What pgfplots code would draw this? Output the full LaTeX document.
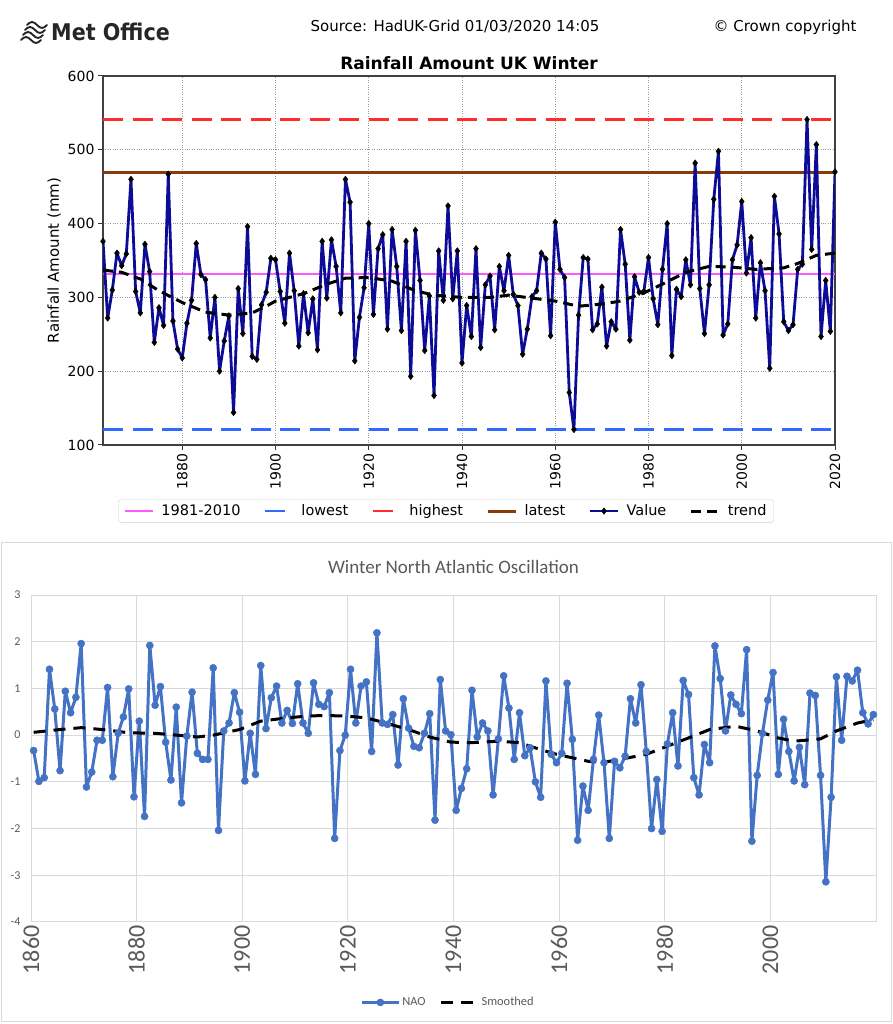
\documentclass[border=0pt]{standalone}
\usepackage{fontspec}
\setmainfont{DejaVu Sans}
\newfontfamily\condf{DejaVu Sans Condensed}
\newfontfamily\carl{Carlito}
\usepackage{pgfplots}
\usepackage{pgfplotstable}
\pgfplotsset{compat=1.18}
\newcommand{\fs}[1]{\fontsize{#1}{#1}\selectfont}
\definecolor{navyv}{RGB}{12,12,150}
\definecolor{magl}{RGB}{255,90,255}
\definecolor{lowb}{RGB}{50,105,255}
\definecolor{highr}{RGB}{255,45,45}
\definecolor{brownl}{RGB}{135,60,10}
\definecolor{naob}{RGB}{68,114,196}
\definecolor{xlgray}{RGB}{217,217,217}
\definecolor{xltext}{RGB}{89,89,89}

\pgfplotstableread{
year val
1863 376
1864 272
1865 310
1866 360
1867 343
1868 359
1869 460
1870 308
1871 279
1872 372
1873 335
1874 239
1875 286
1876 262
1877 467
1878 268
1879 230
1880 218
1881 265
1882 296
1883 373
1884 331
1885 324
1886 245
1887 300
1888 200
1889 241
1890 275
1891 144
1892 312
1893 251
1894 396
1895 220
1896 216
1897 290
1898 307
1899 353
1900 351
1901 308
1902 265
1903 360
1904 309
1905 234
1906 305
1907 252
1908 298
1909 229
1910 376
1911 299
1912 378
1913 342
1914 279
1915 460
1916 429
1917 214
1918 273
1919 313
1920 400
1921 277
1922 366
1923 385
1924 257
1925 392
1926 342
1927 255
1928 376
1929 193
1930 391
1931 323
1932 228
1933 302
1934 167
1935 363
1936 296
1937 424
1938 298
1939 363
1940 211
1941 289
1942 247
1943 366
1944 232
1945 317
1946 329
1947 256
1948 342
1949 309
1950 357
1951 304
1952 289
1953 223
1954 257
1955 301
1956 309
1957 360
1958 352
1959 248
1960 402
1961 338
1962 327
1963 171
1964 121
1965 276
1966 354
1967 352
1968 256
1969 264
1970 314
1971 234
1972 267
1973 257
1974 392
1975 345
1976 242
1977 328
1978 307
1979 308
1980 354
1981 298
1982 263
1983 338
1984 400
1985 221
1986 311
1987 301
1988 351
1989 317
1990 482
1991 312
1992 251
1993 317
1994 433
1995 498
1996 249
1997 264
1998 351
1999 371
2000 430
2001 333
2002 381
2003 272
2004 347
2005 309
2006 204
2007 437
2008 386
2009 267
2010 255
2011 263
2012 338
2013 345
2014 541
2015 365
2016 507
2017 247
2018 323
2019 254
2020 470
}\rain

\pgfplotstableread{
year val
1863 337
1867 334
1871 325
1875 309
1880 293
1885 280
1890 276
1895 279
1898 288
1900 295
1906 305
1911 318
1915 326
1920 327
1925 322
1930 309
1934 303
1938 301
1940 300
1946 300
1950 303
1955 299
1960 295
1965 288
1970 291
1974 295
1979 306
1983 318
1988 334
1993 342
1998 341
2003 338
2009 340
2012 346
2016 357
2020 360
}\trendtop

\pgfplotstableread{
year nao
1860 -0.33
1861 -0.99
1862 -0.91
1863 1.41
1864 0.56
1865 -0.76
1866 0.94
1867 0.48
1868 0.81
1869 1.96
1870 -1.11
1871 -0.79
1872 -0.11
1873 -0.11
1874 1.02
1875 -0.89
1876 0.04
1877 0.39
1878 0.99
1879 -1.32
1880 0.30
1881 -1.74
1882 1.92
1883 0.64
1884 1.04
1885 -0.15
1886 -0.96
1887 0.60
1888 -1.45
1889 -0.02
1890 0.92
1891 -0.39
1892 -0.52
1893 -0.52
1894 1.44
1895 -2.04
1896 0.09
1897 0.26
1898 0.91
1899 0.49
1900 -0.98
1901 0.04
1902 -0.84
1903 1.49
1904 0.14
1905 0.80
1906 1.05
1907 0.26
1908 0.53
1909 0.25
1910 1.10
1911 0.26
1912 0.04
1913 1.12
1914 0.66
1915 0.61
1916 0.91
1917 -2.21
1918 -0.33
1919 0.00
1920 1.41
1921 0.26
1922 1.05
1923 1.14
1924 -0.35
1925 2.19
1926 0.26
1927 0.23
1928 0.44
1929 -0.64
1930 0.78
1931 0.15
1932 -0.24
1933 -0.27
1934 0.04
1935 0.46
1936 -1.82
1937 1.19
1938 0.09
1939 0.01
1940 -1.61
1941 -1.14
1942 -0.72
1943 0.96
1944 -0.04
1945 0.26
1946 0.09
1947 -1.28
1948 -0.08
1949 1.27
1950 0.58
1951 -0.52
1952 0.48
1953 -0.44
1954 -0.27
1955 -1.00
1956 -1.33
1957 1.16
1958 -0.41
1959 -0.59
1960 -0.39
1961 1.11
1962 -0.09
1963 -2.25
1964 -1.09
1965 -1.61
1966 -0.52
1967 0.43
1968 -0.59
1969 -2.21
1970 -0.56
1971 -0.70
1972 -0.45
1973 0.78
1974 0.26
1975 1.08
1976 -0.35
1977 -2.00
1978 -0.95
1979 -2.06
1980 -0.19
1981 0.48
1982 -0.66
1983 1.17
1984 0.87
1985 -0.91
1986 -1.28
1987 -0.20
1988 -0.59
1989 1.91
1990 1.21
1991 0.09
1992 0.86
1993 0.66
1994 0.46
1995 1.83
1996 -2.27
1997 -0.86
1998 0.04
1999 0.75
2000 1.34
2001 -0.84
2002 0.34
2003 -0.35
2004 -0.98
2005 -0.26
2006 -1.06
2007 0.90
2008 0.85
2009 -0.86
2010 -3.14
2011 -1.33
2012 1.25
2013 -0.11
2014 1.26
2015 1.16
2016 1.39
2017 0.48
2018 0.24
2019 0.44
}\nao

\pgfplotstableread{
year sm
1860 0.06
1865 0.12
1869 0.16
1874 0.11
1878 0.05
1883 0.04
1887 0.00
1891 -0.04
1894 0.00
1899 0.12
1903 0.30
1908 0.37
1912 0.41
1915 0.42
1919 0.41
1923 0.37
1926 0.28
1931 0.12
1935 -0.04
1939 -0.15
1943 -0.16
1948 -0.13
1952 -0.16
1956 -0.31
1959 -0.41
1965 -0.56
1968 -0.58
1971 -0.52
1976 -0.41
1979 -0.28
1984 -0.06
1988 0.12
1993 0.19
1997 0.09
2001 -0.06
2004 -0.13
2009 -0.08
2012 0.09
2016 0.26
2019 0.33
}\smoothnao

\begin{document}
\begin{tikzpicture}
\useasboundingbox (0pt,0pt) rectangle (892pt,1024pt);
% header
\begin{scope}[line width=1.9pt, black!85, line cap=round]
\draw (21pt,984pt) sin (26pt,987pt) cos (31pt,984pt) sin (36pt,981pt) cos (41pt,984pt);
\draw (23pt,989pt) sin (28pt,992pt) cos (33pt,989pt) sin (38pt,986pt) cos (43pt,989pt);
\draw (25pt,994pt) sin (30pt,997pt) cos (35pt,994pt) sin (40pt,991pt) cos (45pt,994pt);
\draw (27pt,999pt) sin (32pt,1002pt) cos (37pt,999pt) sin (42pt,996pt) cos (47pt,999pt);
\end{scope}
\node[anchor=west, inner sep=0pt, font=\condf\bfseries\fs{23}, black!85] at (51pt,992pt) {Met Office};
\node[font=\fs{15}] at (455pt,997pt) {Source: HadUK-Grid 01/03/2020 14:05};
\node[font=\fs{15}] at (785pt,997pt) {© Crown copyright};
% bottom panel frame
\draw[xlgray, line width=1pt] (1pt,2pt) rectangle (891pt,481pt);

\begin{axis}[
  at={(103pt,579pt)}, anchor=south west,
  scale only axis, width=732pt, height=369pt,
  xmin=1863, xmax=2020, ymin=100, ymax=600,
  xtick={1880,1900,...,2020}, ytick={100,200,...,600},
  xtick pos=bottom, ytick pos=left,
  tick align=outside, major tick length=5pt,
  tick style={black!80, line width=1pt},
  axis line style={black!75, line width=1.2pt},
  grid=major, grid style={dotted, black!40, line width=0.8pt},
  /pgf/number format/1000 sep={},
  /pgf/number format/assume math mode=true,
  tick label style={font=\fs{14}, black},
  xticklabel style={rotate=90, anchor=east},
  ylabel={Rainfall Amount (mm)}, ylabel style={font=\fs{15}},
  title={Rainfall Amount UK Winter}, title style={font=\bfseries\fs{17}, yshift=-3pt},
  legend columns=6,
  legend style={at={(0.4686,-0.179)}, anchor=center, font=\fs{14.5}, draw=black!20,
    rounded corners=2pt, inner xsep=5pt, inner ysep=3pt,
    /tikz/every odd column/.append style={column sep=5pt},
    /tikz/every even column/.append style={column sep=21pt}},
  legend image code/.code={\draw[mark repeat=2,mark phase=2,#1] plot coordinates {(0cm,0cm) (0.5cm,0cm) (1cm,0cm)};},
]
\addplot[magl, line width=2.5pt] coordinates {(1863,331.7) (2020,331.7)};
\addlegendentry{1981-2010}
\addplot[lowb, line width=2.5pt, dash pattern=on 20pt off 9.5pt] coordinates {(1863,121.3) (2020,121.3)};
\addlegendentry{lowest}
\addplot[highr, line width=2.5pt, dash pattern=on 20pt off 9.5pt] coordinates {(1863,541) (2020,541)};
\addlegendentry{highest}
\addplot[brownl, line width=3pt] coordinates {(1863,469.7) (2020,469.7)};
\addlegendentry{latest}
\addplot[navyv, line width=2.8pt, line join=round, mark=diamond*, mark size=3.3pt, mark options={black, solid, line width=0.4pt}] table[x=year,y=val] {\rain};
\addlegendentry{Value}
\addplot[black, line width=3pt, line join=round, dash pattern=on 10pt off 6pt] table[x=year,y=val] {\trendtop};
\addlegendentry{trend}
\end{axis}

\begin{axis}[
  at={(31pt,102pt)}, anchor=south west,
  scale only axis, width=845pt, height=327pt,
  xmin=1859.5, xmax=2019.5, ymin=-4, ymax=3,
  xtick={1859.5,1879.5,1899.5,1919.5,1939.5,1959.5,1979.5,1999.5},
  xticklabels={1860,1880,1900,1920,1940,1960,1980,2000},
  ytick={-4,-3,...,3},
  major tick length=0pt,
  grid=major, grid style={xlgray, line width=1pt},
  axis line style={xlgray, line width=1pt},
  /pgf/number format/assume math mode=true,
  xticklabel style={rotate=90, anchor=east, font=\carl\fs{24}, text=xltext},
  yticklabel style={font=\carl\fs{12}, text=xltext, xshift=-7pt},
  title={Winter North Atlantic Oscillation},
  title style={font=\carl\fs{19}, text=xltext, yshift=12pt},
  legend columns=2,
  legend style={at={(0.4935,-0.246)}, anchor=center, draw=none, fill=none,
    font=\carl\fs{12.4}, text=xltext,
    /tikz/every even column/.append style={column sep=12pt}},
  legend image code/.code={\draw[mark repeat=2,mark phase=2,#1] plot coordinates {(0cm,0cm) (0.65cm,0cm) (1.3cm,0cm)};},
]
\addplot[naob, line width=3pt, line join=round, mark=*, mark size=3.6pt, mark options={solid, fill=naob, draw=naob, line width=0.4pt}] table[x=year,y=nao] {\nao};
\addlegendentry{NAO}
\addplot[black, line width=3pt, line join=round, dash pattern=on 12pt off 8pt] table[x=year,y=sm] {\smoothnao};
\addlegendentry{Smoothed}
\end{axis}
\end{tikzpicture}
\end{document}
